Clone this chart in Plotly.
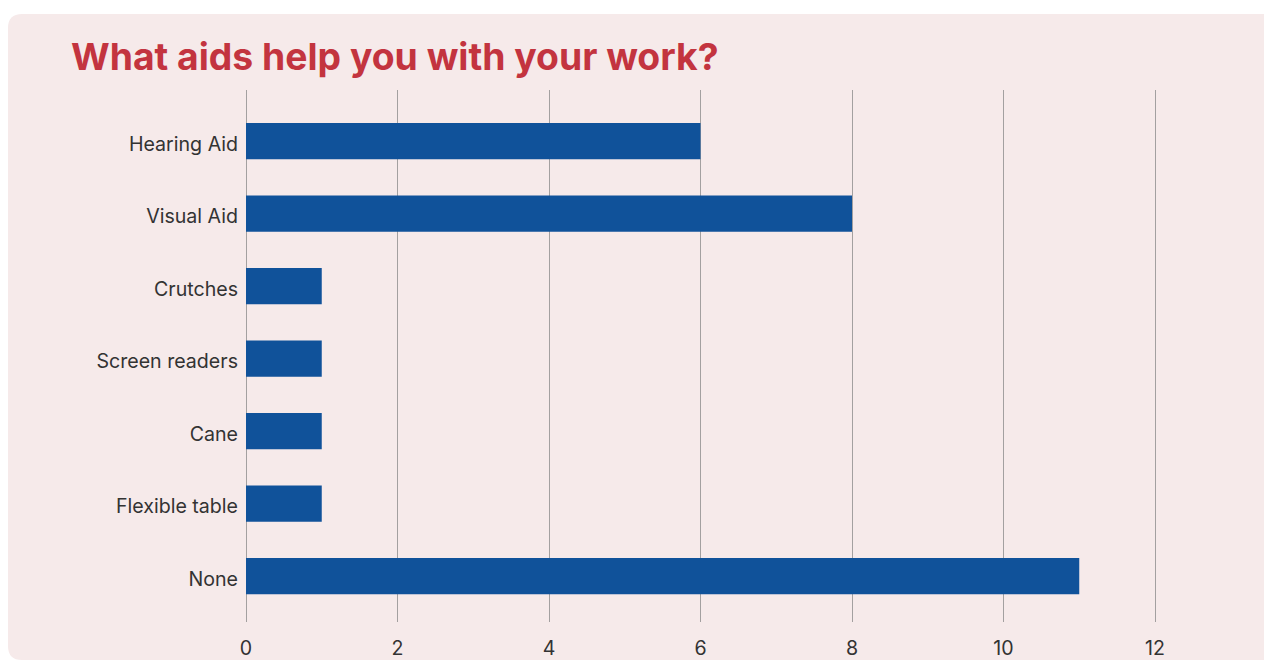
import plotly.graph_objects as go

# Survey responses: which aids help at work
aids = ["Hearing Aid", "Visual Aid", "Crutches", "Screen readers", "Cane", "Flexible table", "None"]
counts = [6, 8, 1, 1, 1, 1, 11]
x_ticks = [0, 2, 4, 6, 8, 10, 12]

W, H = 1264, 661
L, R, T, B = 246, 0, 90, 39
plot_w = W - L - R
plot_h = H - T - B


def px(x):
    return (x - L) / plot_w


def py(y):
    return (H - B - y) / plot_h


fig = go.Figure(
    go.Bar(
        x=counts,
        y=aids,
        orientation="h",
        width=0.5,
        marker=dict(color="#10529A", line=dict(width=0)),
        hoverinfo="x+y",
    )
)

# rounded pink card behind the chart
x0, x1 = px(8), px(1290)
y0, y1 = py(660), py(14)
rx = 14 / plot_w
ry = 14 / plot_h
card = (
    f"M {x0 + rx},{y1} L {x1},{y1} L {x1},{y0} L {x0 + rx},{y0} "
    f"Q {x0},{y0} {x0},{y0 + ry} L {x0},{y1 - ry} Q {x0},{y1} {x0 + rx},{y1} Z"
)

fig.update_layout(
    width=W,
    height=H,
    margin=dict(l=L, r=R, t=T, b=B),
    paper_bgcolor="white",
    plot_bgcolor="rgba(0,0,0,0)",
    font=dict(family="Inter, sans-serif", size=19.6, color="#333333"),
    showlegend=False,
    bargap=0.5,
    shapes=[
        dict(
            type="path",
            path=card,
            xref="paper",
            yref="paper",
            fillcolor="#F6EAEA",
            line=dict(width=0),
            layer="below",
        )
    ],
    annotations=[
        dict(
            text="<b>What aids help you with your work?</b>",
            xref="paper",
            yref="paper",
            x=px(69),
            y=py(56),
            xanchor="left",
            yanchor="middle",
            showarrow=False,
            font=dict(family="Inter, sans-serif", size=37.3, color="#C3343F"),
        )
    ],
)

fig.update_xaxes(
    range=[0, plot_w / 75.75],
    tickvals=x_ticks,
    ticktext=[str(v) for v in x_ticks],
    showgrid=True,
    gridcolor="#A3A0A0",
    gridwidth=1,
    zeroline=True,
    zerolinecolor="#A3A0A0",
    zerolinewidth=1,
    showline=False,
    ticks="",
    ticklabelstandoff=12,
    fixedrange=True,
)

fig.update_yaxes(
    categoryorder="array",
    categoryarray=aids,
    range=[6 + 46 / 72.5, -51 / 72.5],
    showgrid=False,
    zeroline=False,
    showline=False,
    ticks="",
    ticklabelstandoff=7,
    ticklabelshift=-3,
    fixedrange=True,
)

fig.write_html("out.html")
